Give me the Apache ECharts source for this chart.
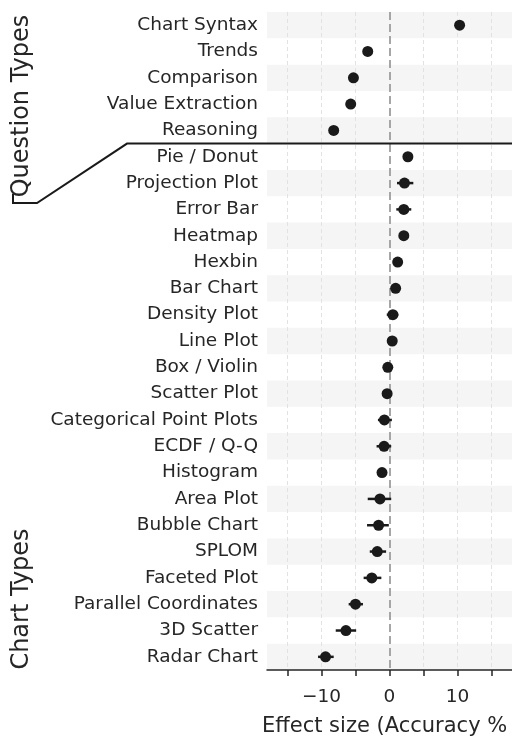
<!DOCTYPE html>
<html>
<head>
<meta charset="utf-8">
<script src="https://cdn.jsdelivr.net/npm/echarts@6/dist/echarts.min.js"></script>
<style>
  html, body { margin: 0; padding: 0; background: #fff; }
  #chart { width: 512px; height: 736px; }
</style>
</head>
<body>
<div id="chart"></div>
<script>
// rows, top to bottom (first 5 are question types, rest chart types)
const categories = [
  'Chart Syntax', 'Trends', 'Comparison', 'Value Extraction', 'Reasoning',
  'Pie / Donut', 'Projection Plot', 'Error Bar', 'Heatmap', 'Hexbin',
  'Bar Chart', 'Density Plot', 'Line Plot', 'Box / Violin', 'Scatter Plot',
  'Categorical Point Plots', 'ECDF / Q-Q', 'Histogram', 'Area Plot', 'Bubble Chart',
  'SPLOM', 'Faceted Plot', 'Parallel Coordinates', '3D Scatter', 'Radar Chart'
];
const effects = [
  10.3, -3.2, -5.3, -5.7, -8.2,
  2.7, 2.2, 2.1, 2.1, 1.2,
  0.9, 0.5, 0.4, -0.25, -0.35,
  -0.75, -0.8, -1.1, -1.4, -1.6,
  -1.8, -2.6, -5.0, -6.4, -9.4
];
const ciLow = [
  9.9, -3.6, -5.7, -6.1, -8.6,
  2.2, 1.1, 1.0, 1.7, 0.9,
  0.5, -0.4, 0.0, -0.6, -0.7,
  -1.7, -1.9, -1.5, -3.2, -3.3,
  -2.9, -3.8, -6.0, -7.9, -10.5
];
const ciHigh = [
  10.7, -2.8, -4.9, -5.3, -7.8,
  3.2, 3.5, 3.2, 2.5, 1.5,
  1.3, 1.3, 0.8, 0.1, 0.0,
  0.35, 0.25, -0.7, 0.25, -0.1,
  -0.5, -1.2, -3.9, -4.9, -8.2
];
const xTicks = [-15, -10, -5, 0, 5, 10, 15];
const xLabels = [-10, 0, 10];
const gridValues = [-15, -10, -5, 5, 10, 15];

const chart = echarts.init(document.getElementById('chart'));
const font = 'DejaVu Sans';
const ink = '#1a1a1a';

chart.setOption({
  animation: false,
  textStyle: { fontFamily: font },
  grid: { left: 267, right: 0, top: 12, bottom: 66 },
  xAxis: {
    type: 'value',
    min: -18,
    max: 18,
    axisLine: { show: true, onZero: false, lineStyle: { color: '#262626', width: 1.5 } },
    axisTick: { show: true, customValues: xTicks, length: 6, lineStyle: { color: '#262626', width: 1.5 } },
    axisLabel: {
      customValues: xLabels,
      fontSize: 18.5,
      color: '#262626',
      margin: 18,
      formatter: v => (v < 0 ? '\u2212' + Math.abs(v) : String(v))
    },
    splitLine: { show: false }
  },
  yAxis: {
    type: 'category',
    data: categories,
    inverse: true,
    axisLine: { show: false },
    axisTick: { show: false },
    axisLabel: { fontSize: 18.5, color: '#262626', margin: 9 },
    splitArea: { show: true, areaStyle: { color: ['#f5f5f5', 'rgba(255,255,255,0)'] } }
  },
  series: [
    {
      // error bars
      type: 'custom',
      silent: true,
      data: categories.map((c, i) => [ciLow[i], ciHigh[i], c]),
      encode: { x: [0, 1], y: 2 },
      renderItem: (params, api) => {
        const a = api.coord([api.value(0), api.value(2)]);
        const b = api.coord([api.value(1), api.value(2)]);
        return {
          type: 'line',
          shape: { x1: a[0], y1: a[1], x2: b[0], y2: b[1] },
          style: { stroke: ink, lineWidth: 2.5 }
        };
      },
      z: 3
    },
    {
      type: 'scatter',
      data: categories.map((c, i) => [effects[i], c]),
      symbolSize: 11,
      itemStyle: { color: ink, opacity: 1 },
      z: 4,
      markLine: {
        silent: true,
        symbol: 'none',
        label: { show: false },
        z: 1,
        data: gridValues.map(v => ({ xAxis: v, lineStyle: { color: '#e2e2e2', width: 1, type: [4, 3] } }))
          .concat([{ xAxis: 0, lineStyle: { color: '#a6a6a6', width: 2, type: [8, 4] } }])
      }
    }
  ]
});

// bracket separating question types from chart types
const yA = chart.convertToPixel({ yAxisIndex: 0 }, 'Reasoning');
const yB = chart.convertToPixel({ yAxisIndex: 0 }, 'Pie / Donut');
const ySep = (yA + yB) / 2;

chart.setOption({
  graphic: [
    {
      type: 'polyline',
      silent: true,
      z: 10,
      shape: { points: [[13, 194], [13, 203], [37, 203], [127, ySep], [512, ySep]] },
      style: { stroke: ink, lineWidth: 2, fill: null }
    },
    {
      type: 'text',
      x: 22, y: 106, rotation: Math.PI / 2,
      style: { text: 'Question Types', font: '24px ' + font, fill: '#262626', align: 'center', verticalAlign: 'middle' }
    },
    {
      type: 'text',
      x: 22, y: 599, rotation: Math.PI / 2,
      style: { text: 'Chart Types', font: '24px ' + font, fill: '#262626', align: 'center', verticalAlign: 'middle' }
    },
    {
      type: 'text',
      x: 262, y: 727,
      style: { text: 'Effect size (Accuracy % change)', font: '21px ' + font, fill: '#262626', align: 'left', verticalAlign: 'middle' }
    }
  ]
});
</script>
</body>
</html>
